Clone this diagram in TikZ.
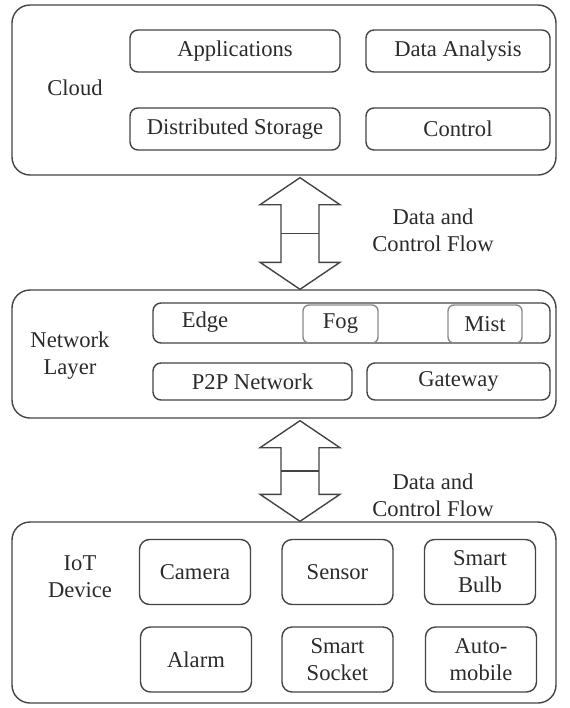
\documentclass[tikz,border=0pt]{standalone}
\usepackage{fontspec}
\setmainfont{Liberation Serif}
\usepackage{tikz}
\usetikzlibrary{positioning,calc}
\definecolor{LayLine}{HTML}{444444}
\definecolor{LayText}{HTML}{2B2B2B}
\definecolor{LayGray}{HTML}{8A8A8A}
\newcommand{\flowarrow}[2]{%
\draw[flow] (#1) -- ($(#1)+(40,27)$) -- ($(#1)+(19,27)$) -- ($(#2)+(19,-27)$) -- ($(#2)+(40,-27)$) -- (#2)
  -- ($(#2)+(-40,-27)$) -- ($(#2)+(-19,-27)$) -- ($(#1)+(-19,27)$) -- ($(#1)+(-40,27)$) -- cycle;
\draw[flow] ($(#1)!.5!(#2)+(-19,0)$) -- ($(#1)!.5!(#2)+(19,0)$);}

\begin{document}
\begin{tikzpicture}[x=0.5pt, y=-0.5pt,
  every node/.style={text=LayText, font=\fontsize{11.3}{13.5}\selectfont},
  layer/.style={draw=LayLine, line width=0.7pt, rounded corners=9pt, minimum width=272pt},
  item/.style={draw=LayLine, line width=0.7pt, rounded corners=4pt, minimum height=21pt},
  sub/.style={draw=LayGray, line width=0.7pt, rounded corners=3pt, minimum width=37.5pt, minimum height=19pt},
  dev/.style={draw=LayLine, line width=0.7pt, rounded corners=5pt, minimum width=55.5pt, minimum height=32.5pt, align=center},
  flow/.style={draw=LayLine, line width=0.7pt, line join=miter}]
\useasboundingbox (0,0) rectangle (569,708);
\node[layer, minimum height=85pt] (cloud) at (284,90) {};
\node[layer, minimum height=64pt] (net) at (284,354) {};
\node[layer, minimum height=90.5pt] (iot) at (284,612.5) {};

\node (cloudlbl) at (75,88) {Cloud};
\node[item, minimum width=105pt] (apps) at (235,51) {Applications};
\node[item, minimum width=92pt] (analysis) at (458,51) {Data Analysis};
\node[item, minimum width=105pt] (storage) at (235,129) {Distributed Storage};
\node[item, minimum width=92pt] (control) at (458,129) {Control};

\node[align=center] (netlbl) at (70,356) {Network\\Layer};
\node[item, minimum width=198.5pt, minimum height=20pt] (edgerow) at (351.5,323) {};
\node (edge) at (205,322) {Edge};
\node[sub] (fog) at (340.5,324) {Fog};
\node[sub, minimum width=37pt] (mist) at (485,324) {Mist};
\node[item, minimum width=99.5pt, minimum height=18.5pt] (p2p) at (252.5,381.5) {P2P Network};
\node[item, minimum width=91.5pt, minimum height=18.5pt] (gateway) at (458.5,381.5) {Gateway};

\node[align=center] (iotlbl) at (80,577) {IoT\\Device};
\node[dev] (camera) at (195,572) {Camera};
\node[dev] (sensor) at (337.5,572) {Sensor};
\node[dev] (bulb) at (480,572) {Smart\\Bulb};
\node[dev] (alarm) at (196,659.5) {Alarm};
\node[dev] (socket) at (337.5,659.5) {Smart\\Socket};
\node[dev] (auto) at (481,659.5) {Auto-\\mobile};

\coordinate (topA) at ($(cloud.south)+(16,2)$);
\coordinate (botA) at ($(net.north)+(16,0)$);
\coordinate (topB) at ($(net.south)+(16,2)$);
\coordinate (botB) at ($(iot.north)+(16,0)$);
\flowarrow{topA}{botA}
\flowarrow{topB}{botB}
\node[align=center] (flowA) at (433,230) {Data and\\Control Flow};
\node[align=center] (flowB) at (433,495) {Data and\\Control Flow};
\end{tikzpicture}
\end{document}
